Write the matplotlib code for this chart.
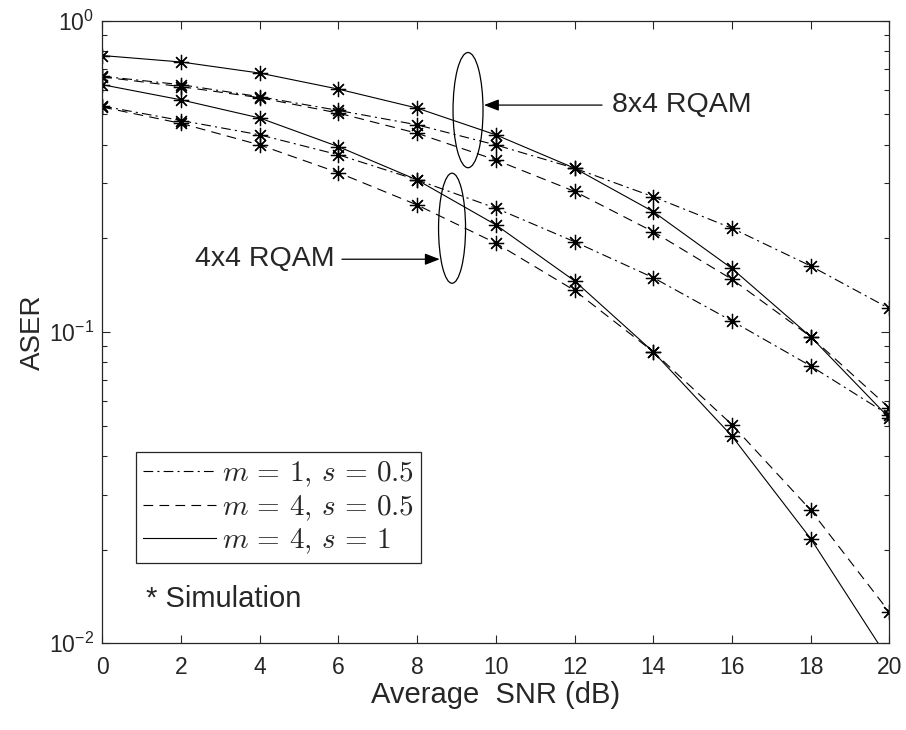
import matplotlib
matplotlib.use("Agg")
import matplotlib.pyplot as plt
from matplotlib.patches import Ellipse
import numpy as np

plt.rcParams['font.family'] = ['Liberation Sans', 'DejaVu Sans']
plt.rcParams['mathtext.fontset'] = 'cm'
plt.rcParams['lines.scale_dashes'] = False

snr = [0, 2, 4, 6, 8, 10, 12, 14, 16, 18, 20]

# 8x4 RQAM
r84_m4_s1 = [0.773, 0.737, 0.679, 0.603, 0.524, 0.430, 0.336, 0.2436, 0.160, 0.0966, 0.0529]
r84_m1_s05 = [0.663, 0.623, 0.570, 0.515, 0.463, 0.399, 0.336, 0.272, 0.2155, 0.163, 0.119]
r84_m4_s05 = [0.660, 0.614, 0.566, 0.505, 0.435, 0.357, 0.283, 0.210, 0.1477, 0.0966, 0.0570]
# 4x4 RQAM
r44_m4_s1 = [0.623, 0.557, 0.487, 0.394, 0.308, 0.221, 0.146, 0.0864, 0.0463, 0.0217, 0.0088]
r44_m1_s05 = [0.532, 0.478, 0.430, 0.371, 0.308, 0.250, 0.195, 0.1495, 0.1085, 0.0778, 0.054]
r44_m4_s05 = [0.528, 0.468, 0.399, 0.325, 0.256, 0.193, 0.136, 0.0864, 0.0504, 0.0268, 0.0126]

legend_labels = [r'$m\,=\,1,\,s\,=\,0.5$', r'$m\,=\,4,\,s\,=\,0.5$', r'$m\,=\,4,\,s\,=\,1$']
xticks = list(range(0, 21, 2))

TXT = '#262626'
dashdot = (0, (7, 3, 1.5, 3))
dashed = (0, (7, 4.5))
solid = '-'

fig = plt.figure(figsize=(9.06, 7.30), dpi=100)
ax = fig.add_axes([0.1129, 0.1188, 0.9816 - 0.1129, 0.9716 - 0.1188])

star = (8, 2, 0)
common = dict(color='black', lw=0.8, marker=star, markersize=11, mew=0.9,
              mfc='none', mec='black', clip_on=True)

series = [
    (r84_m1_s05, dashdot), (r84_m4_s05, dashed), (r84_m4_s1, solid),
    (r44_m1_s05, dashdot), (r44_m4_s05, dashed), (r44_m4_s1, solid),
]
for vals, ls in series:
    ax.plot(snr, vals, linestyle=ls, **common)

ax.set_yscale('log')
ax.set_xlim(0, 20)
ax.set_ylim(1e-2, 1)
ax.set_xticks(xticks)
ax.set_xticklabels([str(t) for t in xticks])

ax.tick_params(which='both', direction='in', top=True, right=True, colors=TXT,
               labelsize=16.5, width=0.8)
ax.tick_params(which='major', length=6)
ax.tick_params(which='minor', length=3.5)
ax.tick_params(axis='x', pad=9)
ax.tick_params(axis='y', pad=6)
for s in ax.spines.values():
    s.set_color(TXT)
    s.set_linewidth(0.9)

ax.set_xlabel('Average  SNR (dB)', fontsize=21, color=TXT, labelpad=1.5)
ax.set_ylabel('ASER', fontsize=20, color=TXT, labelpad=2)

# legend
h = [plt.Line2D([], [], color='black', lw=0.8, linestyle=ls) for ls in (dashdot, dashed, solid)]
leg = ax.legend(h, legend_labels, loc='upper left', bbox_to_anchor=(0.0428, 0.3066),
                borderaxespad=0, fontsize=21, handlelength=2.5, handletextpad=0.2,
                labelspacing=0.12, borderpad=0.25, fancybox=False, framealpha=1,
                edgecolor=TXT)
leg.get_frame().set_linewidth(0.9)
for t in leg.get_texts():
    t.set_color(TXT)

ax.text(0.055, 0.0719, '* Simulation', transform=ax.transAxes, fontsize=21,
        color=TXT, va='center', ha='left')

# ellipses and annotations
ax.add_patch(Ellipse((0.4647, 0.8564), 0.0381, 0.185, transform=ax.transAxes,
                     fill=False, ec='black', lw=0.9))
ax.add_patch(Ellipse((0.4444, 0.6667), 0.0343, 0.1768, transform=ax.transAxes,
                     fill=False, ec='black', lw=0.9))

arrowprops = dict(arrowstyle='-|>,head_length=0.9,head_width=0.35', color='black', lw=0.9,
                  shrinkA=0, shrinkB=0)
ax.annotate('', xy=(0.485, 0.8645), xytext=(0.635, 0.8645), xycoords='axes fraction',
            arrowprops=arrowprops)
ax.text(0.647, 0.8645, '8x4 RQAM', transform=ax.transAxes, fontsize=20.5, color=TXT,
        va='center', ha='left')
ax.annotate('', xy=(0.4287, 0.6169), xytext=(0.3045, 0.6169), xycoords='axes fraction',
            arrowprops=arrowprops)
ax.text(0.2955, 0.6169, '4x4 RQAM', transform=ax.transAxes, fontsize=20.5, color=TXT,
        va='center', ha='right')

fig.savefig('out.png', dpi=100)
